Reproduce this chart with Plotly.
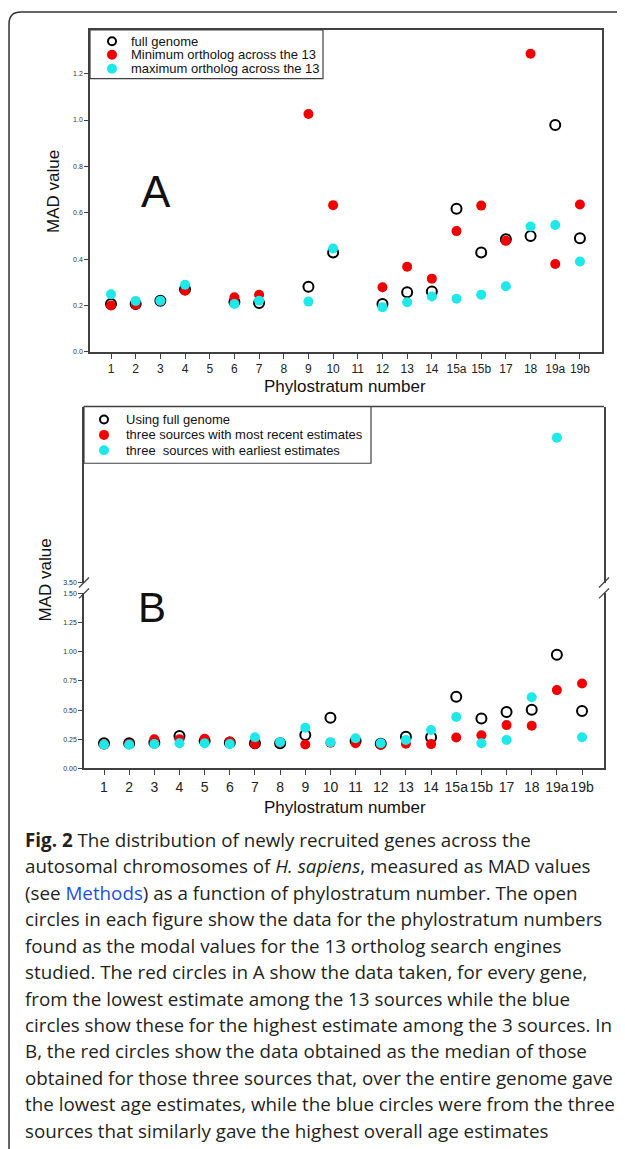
import plotly.graph_objects as go

W, H = 625, 1149
OFF = 8  # page body margin

categories = ["1", "2", "3", "4", "5", "6", "7", "8", "9", "10", "11", "12",
              "13", "14", "15a", "15b", "17", "18", "19a", "19b"]

# Panel A
a_full = [0.207, 0.207, 0.221, 0.270, None, 0.215, 0.211, None, 0.281, 0.429, None, 0.207,
          0.257, 0.261, 0.617, 0.429, 0.486, 0.500, 0.979, 0.490]
a_min = [0.200, 0.204, 0.220, 0.264, None, 0.236, 0.246, None, 1.026, 0.633, None, 0.279,
         0.367, 0.316, 0.521, 0.631, 0.479, 1.286, 0.379, 0.636]
a_max = [0.249, 0.220, 0.221, 0.290, None, 0.207, 0.221, None, 0.217, 0.446, None, 0.193,
         0.214, 0.239, 0.229, 0.247, 0.283, 0.541, 0.547, 0.390]

# Panel B
b_full = [0.216, 0.216, 0.222, 0.278, 0.235, 0.222, 0.215, 0.216, 0.287, 0.435, 0.235, 0.211,
          0.272, 0.267, 0.615, 0.427, 0.483, 0.503, 0.975, 0.492]
b_recent = [0.202, 0.210, 0.250, 0.250, 0.253, 0.230, 0.208, 0.220, 0.205, 0.220, 0.216, 0.202,
            0.211, 0.208, 0.264, 0.284, 0.371, 0.365, 0.671, 0.728]
b_early = [0.202, 0.202, 0.208, 0.216, 0.216, 0.208, 0.267, 0.225, 0.348, 0.225, 0.258, 0.216,
           0.244, 0.329, 0.441, 0.216, 0.244, 0.610, 4.740, 0.267]

a_names = ["full genome", "Minimum ortholog across the 13", "maximum ortholog across the 13"]
b_names = ["Using full genome", "three sources with most recent estimates",
           "three  sources with earliest estimates"]

caption_lines = [
    "<b>Fig. 2</b> The distribution of newly recruited genes across the",
    "autosomal chromosomes of <i>H. sapiens</i>, measured as MAD values",
    "(see <span style='color:#1f4fe0'>Methods</span>) as a function of phylostratum number. The open",
    "circles in each figure show the data for the phylostratum numbers",
    "found as the modal values for the 13 ortholog search engines",
    "studied. The red circles in A show the data taken, for every gene,",
    "from the lowest estimate among the 13 sources while the blue",
    "circles show these for the highest estimate among the 3 sources. In",
    "B, the red circles show the data obtained as the median of those",
    "obtained for those three sources that, over the entire genome gave",
    "the lowest age estimates, while the blue circles were from the three",
    "sources that similarly gave the highest overall age estimates",
]

RED = "#f00000"
CYAN = "#1ee8e8"
SANS = "Liberation Sans, Arial, sans-serif"
LINE = "#404040"


def px(x):
    return (x - OFF) / W


def py(y):
    return 1 - (y - OFF) / H


idx = list(range(len(categories)))

fig = go.Figure()

styles = [
    dict(symbol="circle-open", size=10, color="black", line=dict(width=2, color="black")),
    dict(symbol="circle", size=10, color=RED, line=dict(width=0)),
    dict(symbol="circle", size=10, color=CYAN, line=dict(width=0)),
]

for name, vals, st in zip(a_names, [a_full, a_min, a_max], styles):
    fig.add_trace(go.Scatter(x=idx, y=vals, mode="markers", name=name, marker=st,
                             xaxis="x", yaxis="y", showlegend=False, cliponaxis=False))

for name, vals, st in zip(b_names, [b_full, b_recent, b_early], styles):
    fig.add_trace(go.Scatter(x=idx, y=vals, mode="markers", name=name, marker=st,
                             xaxis="x2", yaxis="y2", showlegend=False))
for name, vals, st in zip(b_names, [b_full, b_recent, b_early], styles):
    fig.add_trace(go.Scatter(x=idx, y=vals, mode="markers", name=name, marker=st,
                             xaxis="x2", yaxis="y3", showlegend=False))

tickfont_y = dict(family=SANS, size=7, color="#333")

# Panel A geometry (page pixels)
A_L, A_R, A_T, A_B = 90, 602, 26, 350
A_first, A_step = 111, 24.68
# Panel B geometry
B_L, B_R, B_T, B_B = 84, 604, 405, 769
B_first, B_step = 104, 25.16
B_low_top, B_up_bot = 593, 582

fig.update_layout(
    width=W, height=H,
    margin=dict(l=0, r=0, t=0, b=0, pad=0),
    paper_bgcolor="white", plot_bgcolor="white",
    showlegend=False,
    xaxis=dict(domain=[px(A_L), px(A_R)],
               range=[(A_L - A_first) / A_step, (A_R - A_first) / A_step],
               tickmode="array", tickvals=idx, ticktext=categories, tickangle=0,
               ticks="outside", ticklen=5, tickwidth=1, tickcolor=LINE,
               showline=True, linecolor=LINE, linewidth=1.5, mirror=True,
               showgrid=False, zeroline=False,
               tickfont=dict(family=SANS, size=12, color="#222"), anchor="y"),
    yaxis=dict(domain=[py(A_B), py(A_T)], range=[0, (A_B - A_T) / 233.3],
               tickvals=[0, 0.2, 0.4, 0.6, 0.8, 1.0, 1.2], tickformat=".1f",
               ticks="outside", ticklen=4, tickwidth=1, tickcolor=LINE,
               showline=True, linecolor=LINE, linewidth=1.5, mirror=True,
               showgrid=False, zeroline=False, tickfont=tickfont_y, anchor="x"),
    xaxis2=dict(domain=[px(B_L), px(B_R)],
                range=[(B_L - B_first) / B_step, (B_R - B_first) / B_step],
                tickmode="array", tickvals=idx, ticktext=categories, tickangle=0,
                ticks="outside", ticklen=5, tickwidth=1, tickcolor=LINE,
                showline=True, linecolor=LINE, linewidth=1.5,
                showgrid=False, zeroline=False,
                tickfont=dict(family=SANS, size=14, color="#222"), anchor="y2"),
    yaxis2=dict(domain=[py(B_B), py(B_low_top)], range=[0, 1.5],
                tickvals=[0, 0.25, 0.5, 0.75, 1.0, 1.25, 1.5], tickformat=".2f",
                ticks="outside", ticklen=4, tickwidth=1, tickcolor=LINE,
                showline=True, linecolor=LINE, linewidth=1.5, mirror=True,
                showgrid=False, zeroline=False, tickfont=tickfont_y, anchor="x2"),
    yaxis3=dict(domain=[py(B_up_bot), py(B_T)], range=[3.5, 3.5 + (B_up_bot - B_T) / 117.5],
                tickvals=[3.5], tickformat=".2f",
                ticks="outside", ticklen=4, tickwidth=1, tickcolor=LINE,
                showline=True, linecolor=LINE, linewidth=1.5, mirror=True,
                showgrid=False, zeroline=False, tickfont=tickfont_y, anchor="x2"),
)

shapes = []
ann = []
# outer rounded frame
shapes.append(dict(type="path", xref="paper", yref="paper",
                   path=f"M {px(650)} {py(8)} L {px(21)} {py(8)} Q {px(9)} {py(8)} {px(9)} {py(20)} L {px(9)} {py(1170)}",
                   line=dict(color="#333", width=1.5)))
# panel B top line
shapes.append(dict(type="line", xref="paper", yref="paper", x0=px(B_L), x1=px(B_R),
                   y0=py(B_T), y1=py(B_T), line=dict(color=LINE, width=1.5)))
# break marks
for xb in (B_L, B_R):
    for yb in (B_up_bot, B_low_top):
        shapes.append(dict(type="line", xref="paper", yref="paper",
                           x0=px(xb - 5), x1=px(xb + 5), y0=py(yb + 5), y1=py(yb - 5),
                           line=dict(color=LINE, width=1.2)))


def add_legend(names, box, mark_x, rows, text_x):
    x0, x1, y0, y1 = box
    shapes.append(dict(type="rect", xref="paper", yref="paper",
                       x0=px(x0), x1=px(x1), y0=py(y0), y1=py(y1),
                       fillcolor="white", line=dict(color=LINE, width=1.2)))
    for name, st, ry in zip(names, styles, rows):
        if st["symbol"] == "circle-open":
            shp = dict(fillcolor="rgba(0,0,0,0)", line=dict(color="black", width=2),
                       x0=-4, x1=4, y0=-4, y1=4)
        else:
            shp = dict(fillcolor=st["color"], line=dict(width=0),
                       x0=-5, x1=5, y0=-5, y1=5)
        shapes.append(dict(type="circle", xref="paper", yref="paper",
                           xsizemode="pixel", ysizemode="pixel",
                           xanchor=px(mark_x), yanchor=py(ry), **shp))
        ann.append(dict(text=name, x=px(text_x), y=py(ry), xref="paper", yref="paper",
                        xanchor="left", yanchor="middle", showarrow=False,
                        font=dict(family=SANS, size=13, color="#111")))


add_legend(a_names, (A_L, 323, A_T, 75), 112, [37.5, 51, 65], 129)
add_legend(b_names, (B_L, 371, B_T, 462), 104, [418, 433.5, 449], 124)

fig.update_layout(shapes=shapes)


def label(text, x, y, size, angle=0):
    ann.append(dict(text=text, x=px(x), y=py(y), xref="paper", yref="paper",
                    xanchor="center", yanchor="middle", textangle=angle,
                    showarrow=False, font=dict(family=SANS, size=size, color="#111")))


label("MAD value", 54, 189, 17, -90)
label("MAD value", 46, 580, 17, -90)
label("Phylostratum number", 345, 385, 17)
label("Phylostratum number", 345, 808, 17)
label("A", 156, 189, 44)
label("B", 152, 607, 42)

for i, line in enumerate(caption_lines):
    ann.append(dict(text=line, x=px(23), y=py(841 + 26.6 * i), xref="paper", yref="paper",
                    xanchor="left", yanchor="middle", showarrow=False, align="left",
                    font=dict(family="Open Sans, sans-serif", size=18.8, color="#231f20")))
fig.update_layout(annotations=ann)

fig.write_html("out.html")
